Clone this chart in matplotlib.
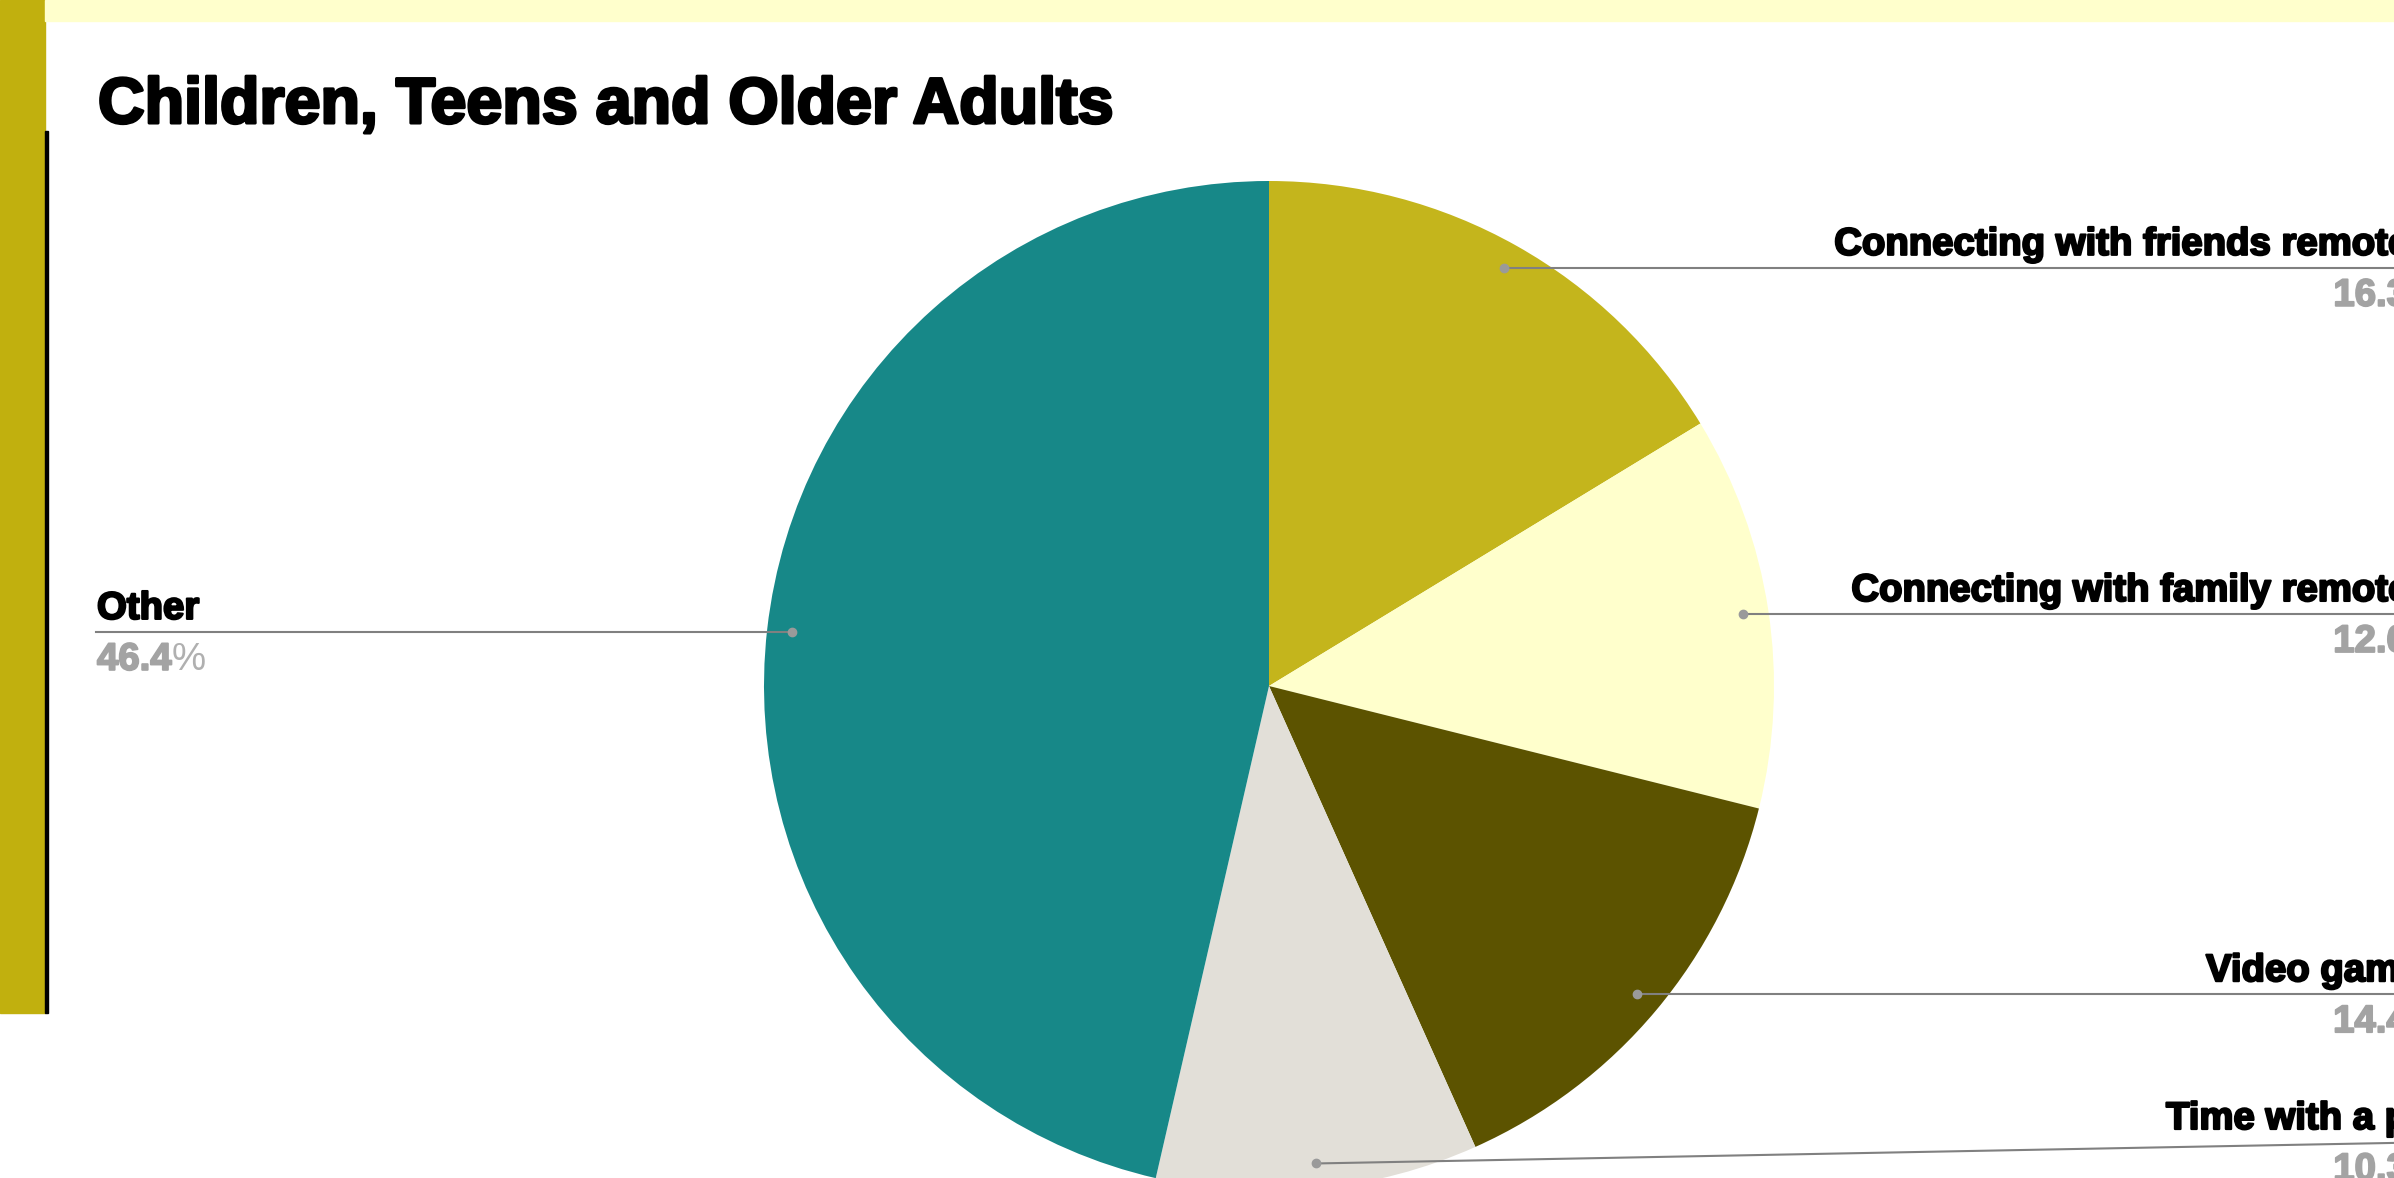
import matplotlib
matplotlib.use('Agg')
import matplotlib.pyplot as plt
import matplotlib.patheffects as pe
from matplotlib.patches import Rectangle
import numpy as np

# data (slices clockwise from 12 o'clock)
title = "Children, Teens and Older Adults"
categories = ["Connecting with friends remotely", "Connecting with family remotely",
              "Video games", "Time with a pet", "Other"]
values = [16.3, 12.6, 14.4, 10.3, 46.4]
colors = ["#C4B51C", "#FFFFCC", "#5C5300", "#E2DFD8", "#178888"]

W, H = 2394, 1178
plt.rcParams['font.family'] = ['Liberation Sans', 'DejaVu Sans']

fig = plt.figure(figsize=(W / 100, H / 100), dpi=100)
ax = fig.add_axes([0, 0, 1, 1])

# pie, in pixel units (y measured upward)
cx, cy, R = 1269, H - 686, 505
wedges, _ = ax.pie(values, colors=colors, startangle=90, counterclock=False,
                   radius=R, center=(cx, cy), wedgeprops=dict(linewidth=0))
ax.set_xlim(0, W)
ax.set_ylim(0, H)
ax.set_aspect('auto')
ax.axis('off')

# page decoration: gold side bar, thin black rule, pale band on top
ax.add_patch(Rectangle((0, H - 1013), 45, 1013, color="#C1B00E", zorder=0))
ax.add_patch(Rectangle((45, H - 1013), 2.5, 1013 - 131, color="black", zorder=0))
ax.add_patch(Rectangle((45, H - 21), W - 45, 21, color="#FFFFCC", zorder=0))

thick = [pe.withStroke(linewidth=2.2, foreground="black")]
ax.text(98, H - 123, title, fontsize=46.5, fontweight='bold', ha='left',
        va='baseline', path_effects=thick)

# labels with leader lines
anchor_r = 2442
anchor_l = 96
lab_fs = 27.6
line_col = "#808080"
pct_col = "#A3A3A3"
lab_fx = [pe.withStroke(linewidth=1.6, foreground="black")]
pct_fx = [pe.withStroke(linewidth=1.4, foreground=pct_col)]
for w, name, v in zip(wedges, categories, values):
    mid = np.deg2rad((w.theta1 + w.theta2) / 2)
    dx = cx + 0.95 * R * np.cos(mid)
    dy = cy + 0.95 * R * np.sin(mid)
    ax.plot(dx, dy, 'o', ms=6, color="#9A9A9A", zorder=5)
    if np.cos(mid) > 0:
        ly = H - 1142 if name == "Time with a pet" else dy
        ax.plot([dx, anchor_r], [dy, ly], color=line_col, lw=1.5, zorder=4)
        ax.text(anchor_r, ly + 13, name, fontsize=lab_fs, fontweight='bold',
                ha='right', va='baseline', path_effects=lab_fx)
        pct = ax.text(anchor_r, ly - 38, "%", fontsize=lab_fs, color="#B0B0B0",
                      ha='right', va='baseline')
        ax.annotate(f"{v:.1f}", xy=(0, 0), xycoords=pct, fontsize=lab_fs,
                    fontweight='bold', color=pct_col, ha='right', va='bottom',
                    path_effects=pct_fx)
    else:
        ly = dy
        ax.plot([anchor_l, dx], [ly, ly], color=line_col, lw=1.5, zorder=4)
        ax.text(anchor_l + 1, ly + 13, name, fontsize=lab_fs, fontweight='bold',
                ha='left', va='baseline', path_effects=lab_fx)
        num = ax.text(anchor_l + 1, ly - 38, f"{v:.1f}", fontsize=lab_fs,
                      fontweight='bold', color=pct_col, ha='left', va='baseline',
                      path_effects=pct_fx)
        ax.annotate("%", xy=(1, 0), xycoords=num, fontsize=lab_fs, color="#B0B0B0",
                    ha='left', va='bottom')

fig.savefig("out.png", dpi=100)
